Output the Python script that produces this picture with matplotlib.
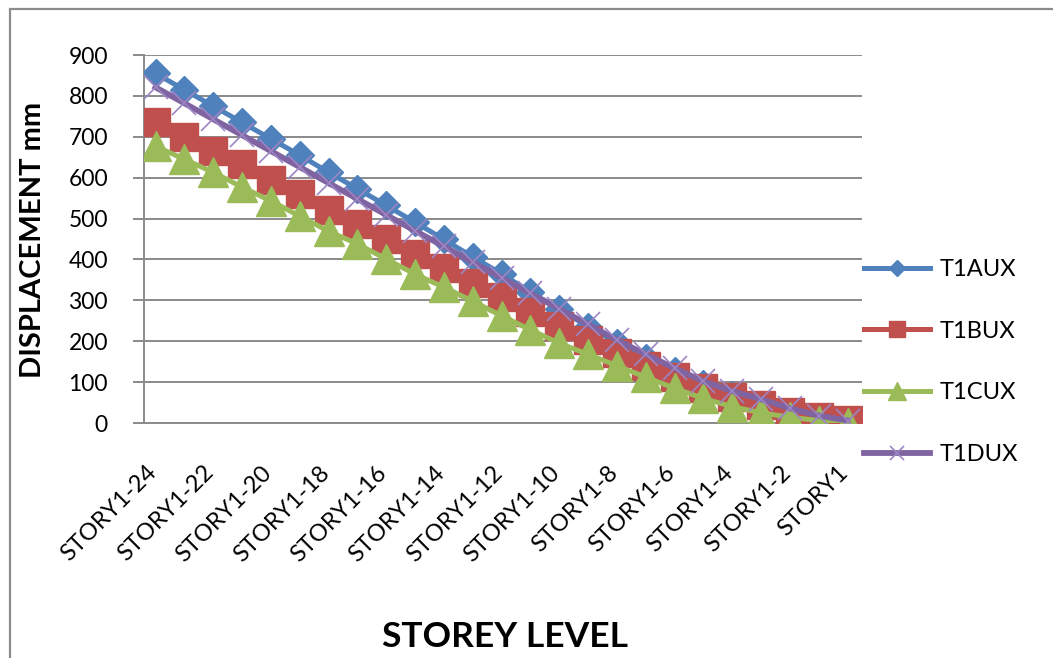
import matplotlib.pyplot as plt
import matplotlib.patches as patches
import matplotlib.transforms as mtransforms
import numpy as np

plt.rcParams['font.family'] = ['Lato', 'DejaVu Sans']

# storey labels from top (STORY1-24) down to STORY1
storeys = [f"STORY1-{n}" for n in range(24, 0, -1)] + ["STORY1"]

# displacement (mm) per storey for each load case
t1aux = [855, 815, 775, 735, 695, 655, 613, 573, 532, 491, 449, 406, 365,
         320, 278, 236, 196, 160, 127, 96, 68, 44, 25, 11, 3]
t1bux = [736, 699, 665, 633, 594, 560, 520, 487, 450, 413, 378, 342, 308,
         272, 238, 204, 170, 140, 112, 86, 63, 43, 27, 15, 7]
t1cux = [677, 645, 613, 577, 543, 506, 469, 438, 401, 364, 332, 298, 262,
         228, 195, 168, 140, 112, 85, 60, 40, 25, 14, 6, 0]
t1dux = [821, 782, 743, 704, 665, 626, 587, 548, 509, 470, 432, 393, 355,
         317, 279, 241, 203, 168, 134, 102, 78, 58, 36, 18, 6]

W, H = 1053, 658
fig = plt.figure(figsize=(W / 100, H / 100), dpi=100)
fig.patch.set_facecolor('white')

# chart area border
fig.add_artist(patches.Rectangle((10 / W, -0.1), 1.2, 1 - 9 / H + 0.1,
                                 transform=fig.transFigure, fill=False,
                                 edgecolor='#8c8c8c', linewidth=1.6))

ax = fig.add_axes([144 / W, 1 - 423 / H, 718 / W, 368 / H])
x = np.arange(len(storeys))

ax.plot(x, t1aux, color='#4F81BD', lw=3.6, marker='D', ms=14,
        mec='#4F81BD', label='T1AUX', zorder=3)
ax.plot(x, t1bux, color='#C0504D', lw=3.6, marker='s', ms=20,
        mec='#C0504D', label='T1BUX', zorder=4)
ax.plot(x, t1cux, color='#9BBB59', lw=3.6, marker='^', ms=21,
        mec='#9BBB59', label='T1CUX', zorder=5)
ax.plot(x, t1dux, color='#8064A2', lw=4.2, marker='x', ms=17, mew=1.2,
        mec='#9c85c4', label='T1DUX', zorder=6)

ax.set_xlim(-0.4, 24.5)
ax.set_ylim(0, 900)
ax.set_yticks(range(0, 901, 100))
ax.set_xticks(x[::2])
ax.set_xticklabels(storeys[::2], rotation=45, ha='right', va='top',
                   rotation_mode='anchor')

ax.grid(axis='y', color='#8a8a8a', lw=1.4)
ax.set_axisbelow(True)
for s in ['top', 'right']:
    ax.spines[s].set_visible(False)
ax.spines['left'].set_color('#8a8a8a')
ax.spines['bottom'].set_color('#8a8a8a')
ax.spines['left'].set_linewidth(1.4)
ax.spines['bottom'].set_linewidth(1.4)
ax.tick_params(axis='y', length=8, width=1.4, color='#8a8a8a', pad=18,
               labelsize=16.5)
ax.tick_params(axis='x', length=0, pad=28, labelsize=17)

# nudge the slanted labels a little left of their category
shift = mtransforms.ScaledTranslation(-10 / 100, 0, fig.dpi_scale_trans)
for lbl in ax.get_xticklabels():
    lbl.set_transform(lbl.get_transform() + shift)

fig.text(33 / W, 1 - 240 / H, 'DISPLACEMENT mm', rotation=90, ha='center',
         va='center', fontsize=21, fontweight='bold')
fig.text(505 / W, 1 - 637 / H, 'STOREY LEVEL', ha='center', va='center',
         fontsize=25.5, fontweight='bold')

ax.legend(loc='center left', bbox_to_anchor=(843 / W, 1 - 362 / H),
          bbox_transform=fig.transFigure, frameon=False, fontsize=17,
          markerscale=0.6, handlelength=2.8, handletextpad=0.4,
          labelspacing=1.72)

fig.savefig('out.png', dpi=100)
